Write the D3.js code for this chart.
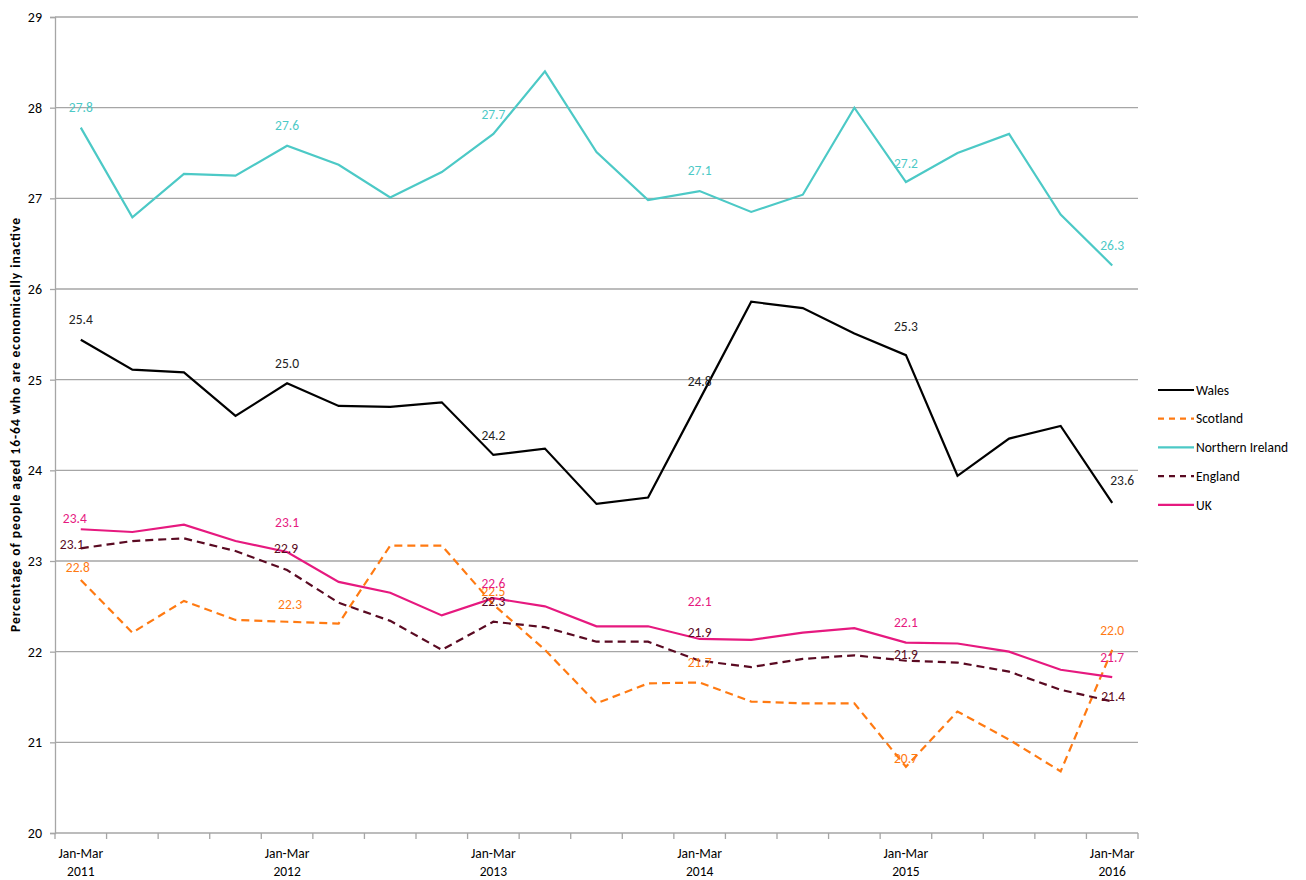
<!DOCTYPE html>
<html>
<head>
<meta charset="utf-8">
<script src="https://cdn.jsdelivr.net/npm/d3@7"></script>
<style>
  body { margin: 0; background: #fff; }
  svg text { font-family: Calibri, Carlito, Lato, sans-serif; }
</style>
</head>
<body>
<svg width="1306" height="880"></svg>
<script>
var width = 1306, height = 880

var quarters = []
var years = [2011, 2012, 2013, 2014, 2015, 2016]
var qNames = ['Jan-Mar', 'Apr-Jun', 'Jul-Sep', 'Oct-Dec']
years.forEach(function(yr) {
  qNames.forEach(function(q) {
    if (yr < 2016 || q == 'Jan-Mar') quarters.push(q + ' ' + yr)
  })
})

var wales = [25.44, 25.11, 25.08, 24.60, 24.96, 24.71, 24.70, 24.75, 24.17, 24.24, 23.63,
  23.70, 24.78, 25.86, 25.79, 25.51, 25.27, 23.94, 24.35, 24.49, 23.64]
var scotland = [22.79, 22.21, 22.56, 22.35, 22.33, 22.31, 23.17, 23.17, 22.52, 22.02, 21.43,
  21.65, 21.66, 21.45, 21.43, 21.43, 20.73, 21.34, 21.03, 20.68, 22.02]
var northernIreland = [27.78, 26.79, 27.27, 27.25, 27.58, 27.37, 27.01, 27.29, 27.71, 28.40, 27.51,
  26.98, 27.08, 26.85, 27.04, 28.00, 27.18, 27.50, 27.71, 26.82, 26.26]
var england = [23.14, 23.22, 23.25, 23.11, 22.90, 22.54, 22.34, 22.02, 22.33, 22.27, 22.11,
  22.11, 21.90, 21.83, 21.92, 21.96, 21.90, 21.88, 21.78, 21.58, 21.45]
var uk = [23.35, 23.32, 23.40, 23.22, 23.10, 22.77, 22.65, 22.40, 22.59, 22.50, 22.28,
  22.28, 22.14, 22.13, 22.21, 22.26, 22.10, 22.09, 22.00, 21.80, 21.72]

var yTicks = [20, 21, 22, 23, 24, 25, 26, 27, 28, 29]

var series = [
  {name: 'Wales', values: wales, color: '#000000', dash: null},
  {name: 'Scotland', values: scotland, color: '#FF7A12', dash: '8,5'},
  {name: 'Northern Ireland', values: northernIreland, color: '#4CC9C6', dash: null},
  {name: 'England', values: england, color: '#5A0A22', dash: '8,5'},
  {name: 'UK', values: uk, color: '#E6197F', dash: null}
]

// labels every Jan-Mar, nudged up/left like the original
var labelIdx = [0, 4, 8, 12, 16, 20]
var labelNudge = {
  'Wales': [[0, -20], [0, -20], [0, -20], [0, -18], [0, -29], [10, -23]],
  'Scotland': [[-3, -13], [3, -17], [0, -13], [0, -20], [0, -9], [0, -20]],
  'Northern Ireland': [[0, -20], [0, -20], [0, -20], [0, -21], [0, -19], [0, -20]],
  'England': [[-9, -4], [-1, -22], [0, -20], [0, -28], [0, -6], [1, -5]],
  'UK': [[-6, -11], [0, -30], [0, -15], [0, -38], [0, -20], [0, -20]]
}

var mLeft = 55, mRight = 1138, mTop = 17, mBottom = 833

var svg = d3.select('svg')

var x = d3.scalePoint().domain(quarters).range([mLeft, mRight]).padding(0.5)
var xBand = d3.scaleBand().domain(quarters).range([mLeft, mRight])
var y = d3.scaleLinear().domain([20, 29]).range([mBottom, mTop])

// gridlines
svg.append('g')
  .selectAll('line')
  .data(yTicks)
  .enter().append('line')
  .attr('x1', mLeft).attr('x2', mRight)
  .attr('y1', function(d) { return y(d) }).attr('y2', function(d) { return y(d) })
  .style('stroke', '#a6a6a6').style('stroke-width', 1.3)

// y axis
var yAxis = svg.append('g')
  .attr('transform', 'translate(' + mLeft + ',0)')
  .call(d3.axisLeft(y).tickValues(yTicks).tickSize(5).tickPadding(8).tickFormat(d3.format('d')))
yAxis.select('.domain').style('stroke', '#a6a6a6').style('stroke-width', 1.3)
yAxis.selectAll('.tick line').style('stroke', '#a6a6a6').style('stroke-width', 1.3)
yAxis.selectAll('.tick text').style('font-size', '14px').style('fill', '#000')

// x axis boundary ticks
var bounds = quarters.map(function(q) { return xBand(q) }).concat([mRight])
svg.append('g')
  .selectAll('line')
  .data(bounds)
  .enter().append('line')
  .attr('x1', function(d) { return d }).attr('x2', function(d) { return d })
  .attr('y1', mBottom).attr('y2', mBottom + 6)
  .style('stroke', '#a6a6a6').style('stroke-width', 1.3)

var xLab = svg.append('g')
  .selectAll('g')
  .data(quarters.filter(function(q) { return q.indexOf('Jan-Mar') == 0 }))
  .enter().append('g')
  .attr('transform', function(d) { return 'translate(' + x(d) + ',0)' })
xLab.append('text')
  .attr('y', 858).attr('text-anchor', 'middle')
  .style('font-size', '13.5px')
  .text(function(d) { return d.split(' ')[0] })
xLab.append('text')
  .attr('y', 876).attr('text-anchor', 'middle')
  .style('font-size', '13.5px')
  .text(function(d) { return d.split(' ')[1] })

// y axis title
svg.append('text')
  .attr('transform', 'translate(20,' + ((mTop + mBottom) / 2) + ') rotate(-90)')
  .attr('text-anchor', 'middle')
  .attr('textLength', 414).attr('lengthAdjust', 'spacing')
  .style('font-size', '13.5px').style('font-weight', 'bold')
  .text('Percentage of people aged 16-64 who are economically inactive')

// lines
var line = d3.line()
  .x(function(d, i) { return x(quarters[i]) })
  .y(function(d) { return y(d) })

svg.append('g')
  .selectAll('path')
  .data(series)
  .enter().append('path')
  .attr('d', function(d) { return line(d.values) })
  .style('fill', 'none')
  .style('stroke', function(d) { return d.color })
  .style('stroke-width', 2.2)
  .style('stroke-dasharray', function(d) { return d.dash })

// data labels
series.forEach(function(s) {
  svg.append('g')
    .selectAll('text')
    .data(labelIdx)
    .enter().append('text')
    .attr('x', function(i, k) { return x(quarters[i]) + labelNudge[s.name][k][0] })
    .attr('y', function(i, k) { return y(s.values[i]) + labelNudge[s.name][k][1] })
    .attr('dy', '0.35em')
    .attr('text-anchor', 'middle')
    .style('font-size', '13.5px')
    .style('fill', s.color == '#000000' ? '#222' : s.color)
    .text(function(i) { return s.values[i].toFixed(1) })
})

// legend
var legend = svg.append('g')
  .selectAll('g')
  .data(series)
  .enter().append('g')
  .attr('transform', function(d, i) { return 'translate(1158,' + (390 + i * 28.7) + ')' })
legend.append('line')
  .attr('x1', 0).attr('x2', 36)
  .style('stroke', function(d) { return d.color })
  .style('stroke-width', 2.2)
  .style('stroke-dasharray', function(d) { return d.dash ? '6,5' : null })
legend.append('text')
  .attr('x', 38).attr('dy', '0.35em')
  .style('font-size', '13.5px')
  .text(function(d) { return d.name })
</script>
</body>
</html>
